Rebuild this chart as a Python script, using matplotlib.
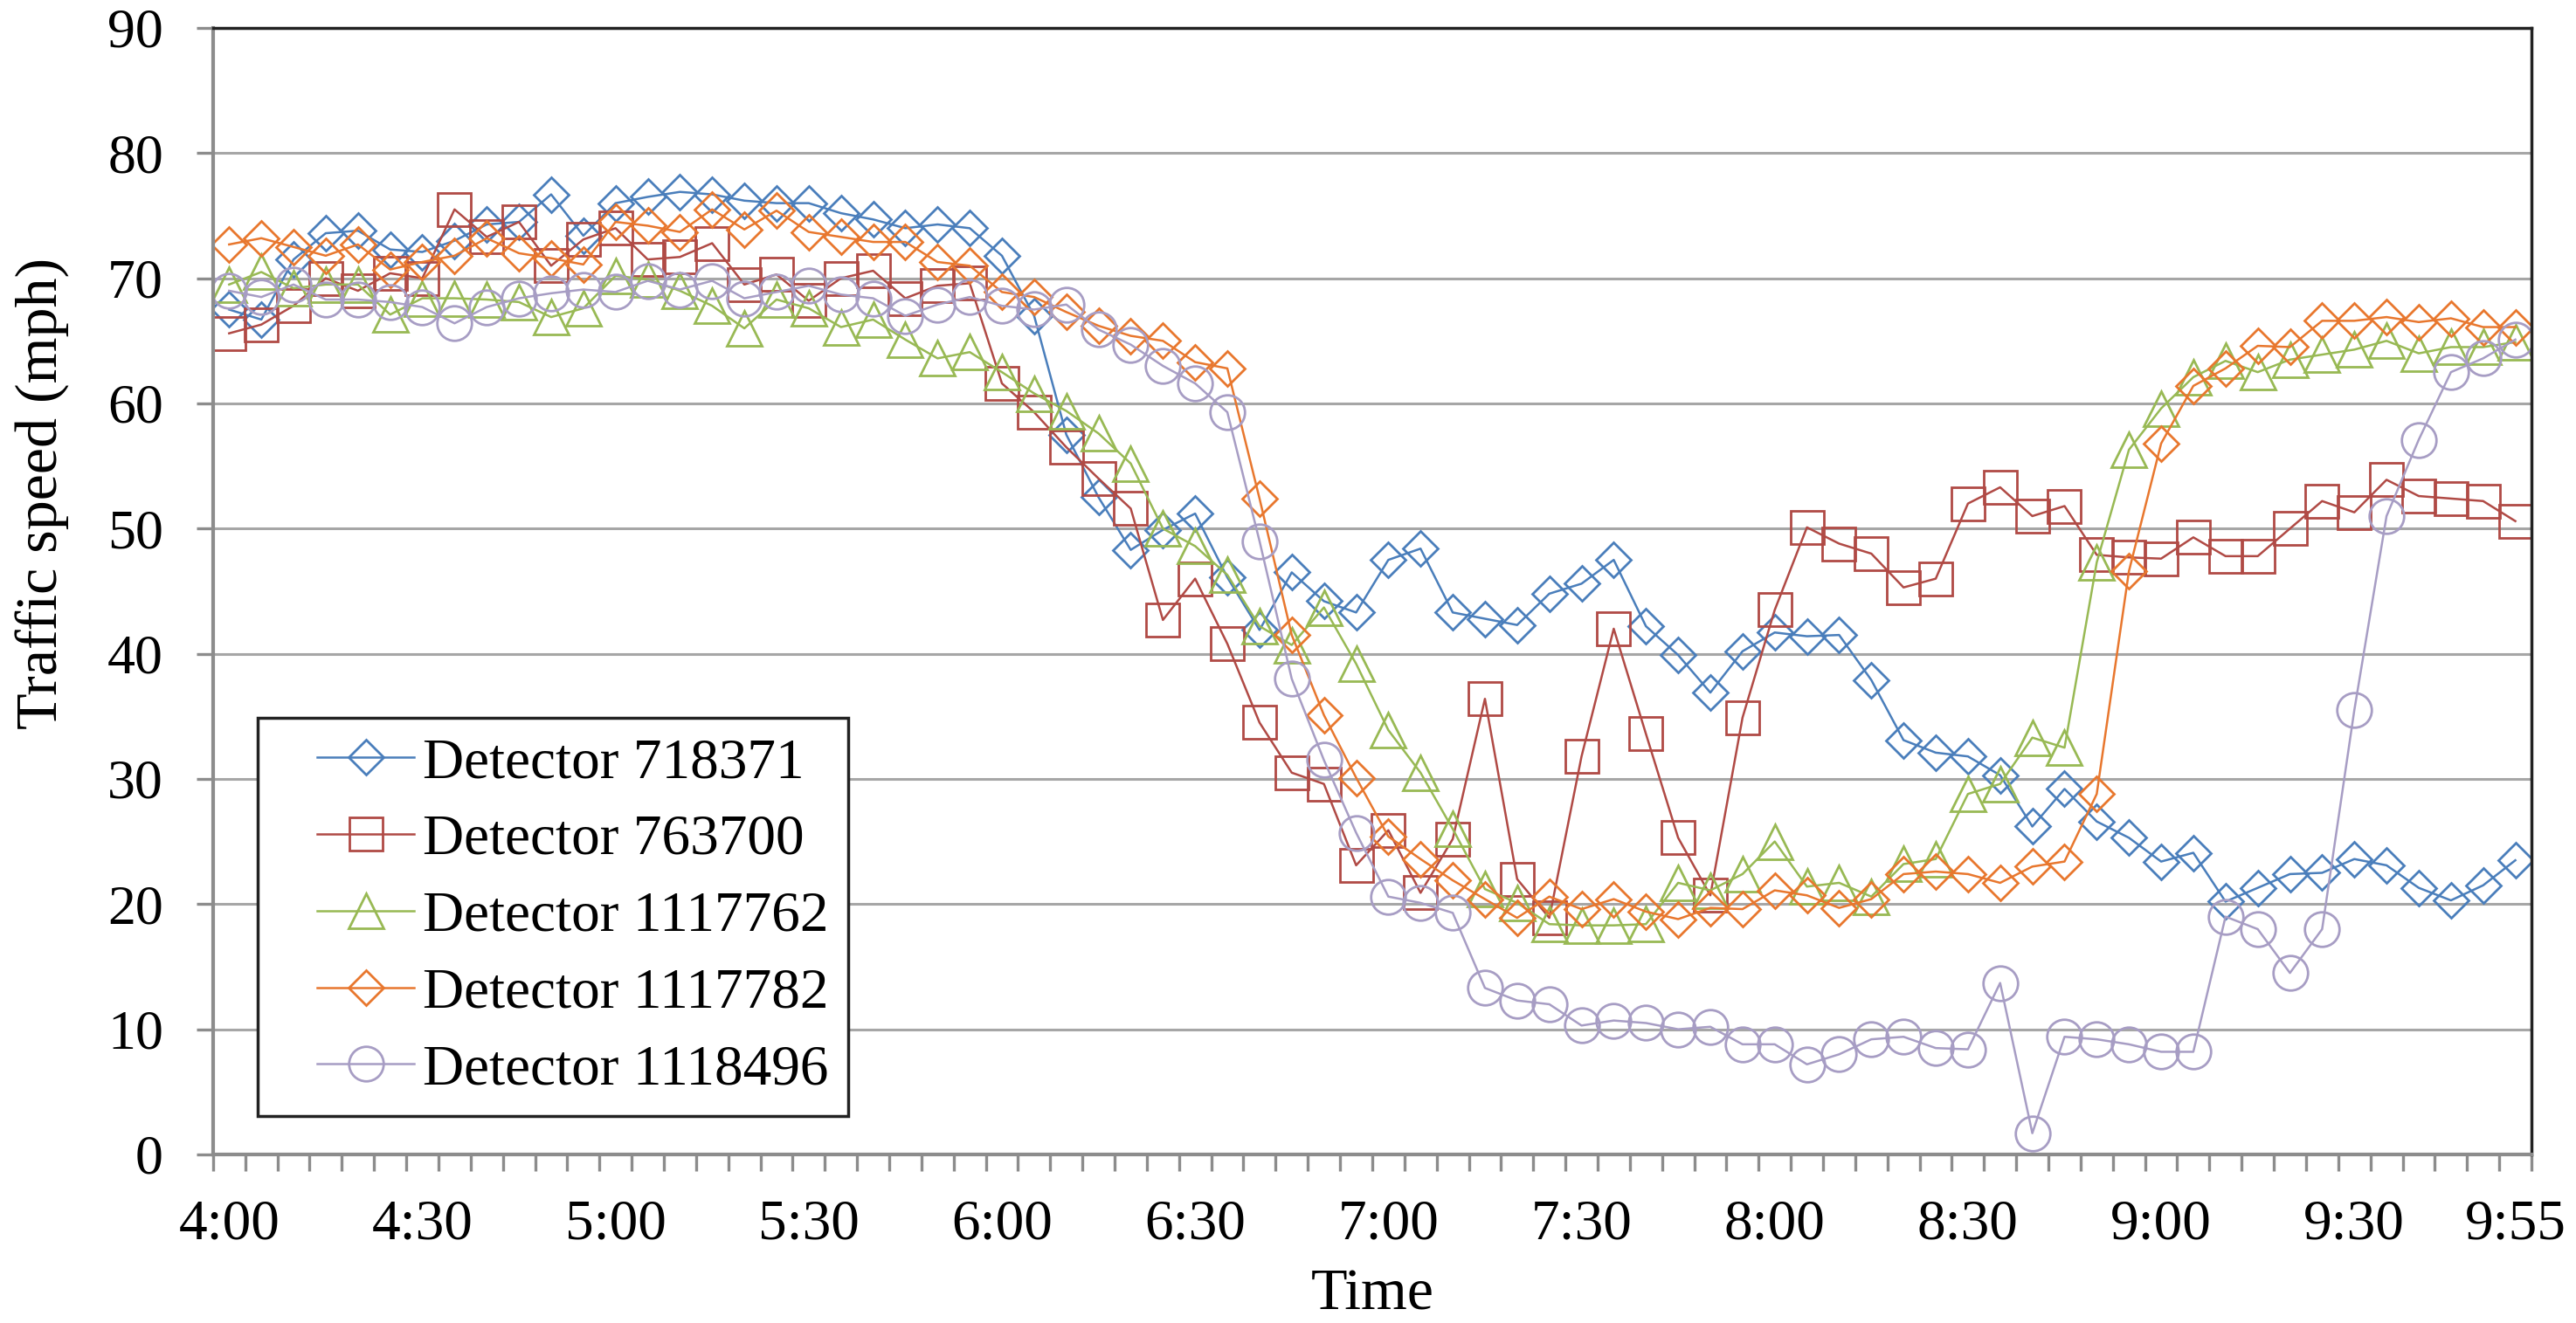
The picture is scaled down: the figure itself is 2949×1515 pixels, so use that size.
import numpy as np
import matplotlib.pyplot as plt
from matplotlib.lines import Line2D
from matplotlib.legend_handler import HandlerLine2D

plt.rcParams['font.family'] = ['Liberation Serif', 'DejaVu Serif']

# 5-minute samples from 4:00 to 9:55
times = [f'{h}:{m:02d}' for h in range(4, 10) for m in range(0, 60, 5)]
tick_labels = ['4:00', '4:30', '5:00', '5:30', '6:00', '6:30', '7:00',
               '7:30', '8:00', '8:30', '9:00', '9:30', '9:55']

# Traffic speed (mph) per detector
d718371 = [67.5, 66.7, 71.5, 73.6, 73.8, 72.3, 72.1, 73.0, 74.3, 74.5, 76.7, 73.4,
           76.0, 76.5, 76.9, 76.7, 76.2, 76.0, 76.0, 75.2, 74.7, 74.0, 74.3, 74.0,
           71.8, 67.0, 57.5, 52.5, 48.3, 49.9, 51.2, 46.1, 41.9, 46.5, 44.2, 43.3,
           47.5, 48.4, 43.3, 42.8, 42.3, 44.8, 45.6, 47.5, 42.2, 39.9, 36.9, 40.2,
           41.7, 41.4, 41.5, 37.9, 33.1, 32.1, 31.8, 30.3, 26.2, 29.2, 26.6, 25.3,
           23.4, 24.1, 20.2, 21.3, 22.4, 22.5, 23.6, 23.1, 21.3, 20.3, 21.5, 23.5]
d763700 = [65.6, 66.3, 67.8, 70.0, 69.0, 70.4, 70.0, 75.5, 73.3, 74.5, 71.0, 73.1,
           74.0, 71.5, 71.7, 72.8, 69.5, 70.3, 68.2, 70.0, 70.6, 68.4, 69.4, 69.6,
           61.6, 59.3, 56.5, 54.0, 51.6, 42.7, 46.0, 40.8, 34.5, 30.5, 29.6, 23.1,
           25.9, 20.9, 25.2, 36.4, 22.0, 18.9, 31.8, 42.0, 33.6, 25.3, 20.7, 34.9,
           43.5, 50.1, 48.8, 48.0, 45.3, 46.0, 52.0, 53.3, 51.0, 51.8, 47.9, 47.7,
           47.6, 49.3, 47.8, 47.8, 50.0, 52.2, 51.3, 53.9, 52.6, 52.4, 52.2, 50.6]
d1117762 = [69.5, 70.5, 69.2, 69.5, 69.5, 67.1, 68.4, 68.4, 68.3, 68.1, 66.9, 67.6,
            70.2, 69.9, 69.0, 67.8, 66.0, 68.3, 67.6, 66.1, 66.7, 65.1, 63.6, 64.1,
            62.5, 60.8, 59.4, 57.6, 55.2, 50.0, 48.6, 46.3, 42.2, 40.7, 43.7, 39.2,
            33.9, 30.5, 26.0, 21.2, 20.1, 18.4, 18.3, 18.3, 18.4, 21.7, 21.1, 22.4,
            25.0, 21.4, 21.7, 20.6, 23.2, 23.6, 28.8, 29.6, 33.3, 32.5, 47.3, 56.3,
            59.6, 62.1, 63.4, 62.5, 63.5, 63.9, 64.3, 65.0, 64.0, 64.5, 64.5, 64.9]
d1117782 = [72.7, 73.2, 72.5, 71.8, 72.7, 70.7, 71.3, 71.8, 73.2, 72.0, 71.6, 71.1,
            74.5, 74.2, 73.7, 75.5, 73.9, 75.4, 73.7, 73.3, 72.9, 72.9, 71.3, 71.0,
            68.9, 68.5, 67.3, 66.2, 65.4, 65.0, 63.3, 62.8, 52.4, 41.5, 35.1, 30.1,
            25.4, 23.6, 21.9, 20.4, 18.9, 20.6, 19.6, 20.4, 19.4, 18.8, 19.7, 19.6,
            21.1, 20.7, 19.7, 20.4, 22.4, 22.6, 22.4, 21.7, 23.0, 23.4, 28.8, 46.6,
            56.8, 61.4, 62.8, 64.6, 64.5, 66.6, 66.6, 66.9, 66.5, 66.8, 66.1, 66.1]
d1118496 = [69.0, 68.5, 69.5, 68.3, 68.3, 68.1, 67.7, 66.4, 67.7, 68.4, 68.8, 69.1,
            68.9, 69.8, 69.1, 69.8, 68.4, 68.9, 69.4, 68.7, 68.4, 67.0, 67.9, 68.5,
            67.8, 67.5, 67.9, 65.9, 64.7, 63.0, 61.6, 59.3, 49.0, 38.0, 31.5, 25.7,
            20.6, 20.1, 19.3, 13.3, 12.3, 12.0, 10.3, 10.7, 10.5, 10.0, 10.2, 8.8,
            8.8, 7.2, 8.0, 9.2, 9.4, 8.5, 8.4, 13.7, 1.7, 9.4, 9.2, 8.8,
            8.2, 8.2, 19.0, 18.0, 14.5, 18.0, 35.5, 51.0, 57.1, 62.5, 63.6, 65.1]

series = [
    ('Detector 718371', d718371, '#4A7EBB', 'D', 20.5),
    ('Detector 763700', d763700, '#B04A45', 's', 28),
    ('Detector 1117762', d1117762, '#98B954', '^', 29),
    ('Detector 1117782', d1117782, '#E8772E', 'D', 20.5),
    ('Detector 1118496', d1118496, '#A79DC4', 'o', 28.5),
]

fig = plt.figure(figsize=(29.49, 15.15), dpi=100)
ax = fig.add_axes([0.0827, 0.1274, 0.9, 0.8515])

x = np.arange(len(times))
for name, vals, color, marker, ms in series:
    ax.plot(x, vals, color=color, lw=1.8, marker=marker, ms=ms,
            mfc='none', mec=color, mew=2.0, label=name)

# axes
ax.set_ylim(0, 90)
ax.set_yticks(range(0, 91, 10))
ax.yaxis.grid(True, color='#A6A6A6', lw=2.2)
ax.set_axisbelow(True)

ax.set_xlim(-0.5, len(times) - 0.5)
ax.set_xticks([times.index(t) for t in tick_labels])
ax.set_xticklabels(tick_labels)
ax.set_xticks(np.arange(-0.5, len(times), 1), minor=True)

gray = '#8C8C8C'
ax.tick_params(axis='x', which='major', length=0, pad=37, labelsize=47)
ax.tick_params(axis='x', which='minor', length=14, width=2.4, color=gray,
               direction='out')
ax.tick_params(axis='y', length=14, width=2.4, color=gray, pad=27,
               labelsize=46, direction='out')

for side in ['left', 'bottom']:
    ax.spines[side].set_color(gray)
    ax.spines[side].set_linewidth(3)
for side in ['top', 'right']:
    ax.spines[side].set_color('#222222')
    ax.spines[side].set_linewidth(2.5)

ax.set_ylabel('Traffic speed (mph)', fontsize=49)
ax.yaxis.set_label_coords(-0.0618, 0.587)
ax.set_xlabel('Time', fontsize=49)
ax.xaxis.set_label_coords(0.5, -0.1008)

leg = ax.legend(loc='lower left', bbox_to_anchor=(0.0192, 0.0341),
                borderaxespad=0, fontsize=47, numpoints=1,
                handlelength=2.4, handletextpad=0.15, borderpad=0.35,
                labelspacing=0.43, fancybox=False, framealpha=1,
                edgecolor='#222222',
                handler_map={Line2D: HandlerLine2D(xpad=0.7)})
leg.get_frame().set_linewidth(2.5)

fig.savefig('out.png', dpi=100)
